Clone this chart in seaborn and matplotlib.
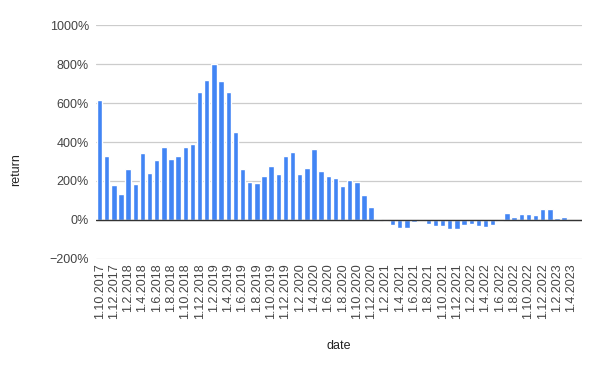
#=====================================================================================================
# Program Name     : MonthlyReturnBarPlot
# Description      : Bar plot of monthly return (%) per start date, Google Sheets look.
# Output           : out.png
#=====================================================================================================

import numpy as np
import pandas as pd
import matplotlib
matplotlib.use("Agg")
import matplotlib.pyplot as plt
import seaborn as sns
from matplotlib.ticker import PercentFormatter

# month start dates shown on the category axis
dates = pd.date_range("2017-10-01", "2023-05-01", freq="MS")
date_labels = [f"{d.day}.{d.month}.{d.year}" for d in dates]

# return in percent (last two months have no bar)
returns = [
    617, 330, 179, 133, 261, 186, 344, 241, 308, 376,
    313, 330, 376, 390, 658, 718, 802, 714, 658, 451,
    261, 195, 190, 227, 278, 237, 330, 349, 237, 267,
    364, 251, 227, 213, 176, 205, 195, 128, 67, 5,
    -5, -26, -43, -40, -10, -5, -18, -30, -30, -45,
    -44, -28, -20, -30, -37, -25, -5, 35, 16, 30,
    30, 24, 55, 55, 11, 13, np.nan, np.nan,
]

y_ticks = [-200, 0, 200, 400, 600, 800, 1000]

BAR_COLOR = "#4285F4"
GRID_COLOR = "#cccccc"
LABEL_COLOR = "#444444"
TITLE_COLOR = "#222222"


def plot_returns(df):
    sns.set_style("white")
    plt.rcParams["font.family"] = ["Liberation Sans", "DejaVu Sans"]

    fig, ax = plt.subplots(figsize=(6, 3.71), dpi=100)
    fig.subplots_adjust(left=0.16, right=0.97, top=0.9326, bottom=0.3019)

    sns.barplot(
        data=df,
        x="date",
        y="return",
        order=date_labels,
        color=BAR_COLOR,
        saturation=1,
        width=0.76,
        errorbar=None,
        ax=ax,
        zorder=3,
    )

    ax.set_ylim(-200, 1000)
    ax.set_yticks(y_ticks)
    ax.yaxis.set_major_formatter(PercentFormatter(decimals=0))
    ax.set_xlim(-0.5, len(date_labels) - 0.5)

    # every second month gets a label
    ax.set_xticks(range(0, len(date_labels), 2))
    ax.set_xticklabels(date_labels[::2], rotation=90, ha="center", va="top")

    ax.grid(axis="y", color=GRID_COLOR, linewidth=0.9, zorder=0)
    ax.axhline(0, color="#333333", linewidth=1.0, zorder=4)
    for spine in ax.spines.values():
        spine.set_visible(False)

    ax.tick_params(axis="both", length=0, labelsize=9, labelcolor=LABEL_COLOR)
    ax.tick_params(axis="y", pad=5)
    ax.tick_params(axis="x", pad=3)

    ax.set_xlabel("date", fontsize=9, color=TITLE_COLOR)
    ax.set_ylabel("return", fontsize=9, color=TITLE_COLOR)
    ax.xaxis.set_label_coords(0.5, -0.345)
    ax.yaxis.set_label_coords(-0.152, 0.382)

    fig.savefig("out.png", dpi=100)


def main():
    df = pd.DataFrame({"date": date_labels, "return": returns})
    plot_returns(df)


if __name__ == "__main__":
    main()
